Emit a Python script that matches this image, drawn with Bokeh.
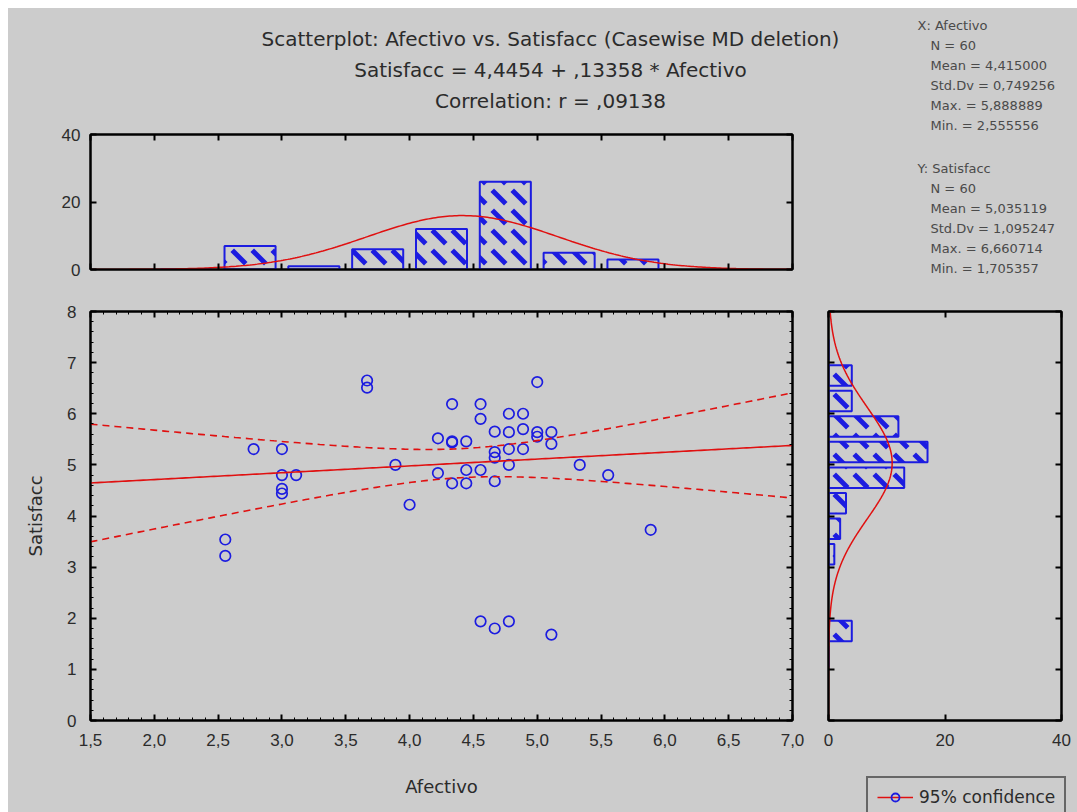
import numpy as np
from bokeh.plotting import figure
from bokeh.layouts import column, row
from bokeh.models import (Range1d, FixedTicker, LinearAxis, Legend,
                          LegendItem, ColumnDataSource)
from bokeh.core.properties import value
from bokeh.embed import file_html
from bokeh.resources import INLINE

# ---------------- data ----------------
afectivo = [3.667, 3.667, 4.333, 4.556, 4.556, 4.667, 4.222, 4.333, 4.333, 4.444,
            2.778, 3.000, 4.667, 4.667, 3.889, 4.222, 4.444, 4.556, 3.000, 3.111,
            4.333, 4.444, 4.667, 3.000, 3.000, 4.000, 2.556, 2.556, 5.000, 4.778,
            4.889, 4.778, 4.889, 5.000, 5.000, 5.111, 5.111, 4.778, 4.889, 4.778,
            5.333, 5.556, 5.889, 4.556, 4.667, 4.778, 5.111]
satisfacc = [6.65, 6.51, 6.19, 6.19, 5.90, 5.65, 5.52, 5.44, 5.46, 5.46,
             5.31, 5.31, 5.25, 5.14, 5.00, 4.84, 4.90, 4.90, 4.80, 4.80,
             4.64, 4.64, 4.68, 4.53, 4.44, 4.22, 3.54, 3.22, 6.62, 6.00,
             6.00, 5.64, 5.70, 5.64, 5.55, 5.64, 5.41, 5.31, 5.31, 5.00,
             5.00, 4.80, 3.73, 1.94, 1.80, 1.94, 1.68]

# histogram of Afectivo (top) and Satisfacc (right)
x_bin_centers = [2.25, 2.75, 3.25, 3.75, 4.25, 4.75, 5.25, 5.75]
x_bin_counts = [0, 7, 1, 6, 12, 26, 5, 3]
y_bin_centers = [7.25, 6.75, 6.25, 5.75, 5.25, 4.75, 4.25, 3.75, 3.25, 2.75, 1.75, 1.25]
y_bin_counts = [0, 4, 4, 12, 17, 13, 3, 2, 1, 0, 4, 0]
bin_width = 0.5

# printed statistics
n_cases = 60
intercept, slope, corr_r = 4.4454, 0.13358, 0.09138
x_name, y_name = "Afectivo", "Satisfacc"
x_mean, x_sd, x_max, x_min = 4.415000, 0.749256, 5.888889, 2.555556
y_mean, y_sd, y_max, y_min = 5.035119, 1.095247, 6.660714, 1.705357
t_crit = 2.0017  # t(0.975, df=58)
legend_label = "95% confidence"

x_ticks = [1.5, 2.0, 2.5, 3.0, 3.5, 4.0, 4.5, 5.0, 5.5, 6.0, 6.5, 7.0]
x_tick_labels = ["1,5", "2,0", "2,5", "3,0", "3,5", "4,0", "4,5", "5,0", "5,5", "6,0", "6,5", "7,0"]
y_ticks = [0, 1, 2, 3, 4, 5, 6, 7, 8]
count_ticks = [0, 20, 40]

# ---------------- style ----------------
BG = "#cccccc"
BLUE = "#1c1ce0"
RED = "#e01010"
FONT = "Liberation Sans"
TFONT = "DejaVu Sans"
TXT = "#2b2b2b"
STAT_TXT = "#4a4a4a"


def comma(v, fmt="{:.6f}"):
    return fmt.format(v).replace(".", ",")


def base_fig(**kw):
    kw.setdefault("outline_line_color", "black")
    p = figure(output_backend="svg", toolbar_location=None,
               background_fill_color=BG, border_fill_color=BG,
               outline_line_width=2, **kw)
    p.grid.grid_line_color = None
    return p


def text_fig(width, height):
    return base_fig(width=width, height=height, x_range=Range1d(0, width), y_range=Range1d(height, 0),
                    min_border=0, outline_line_color=None,
                    x_axis_location=None, y_axis_location=None)


def style_axis(ax, show_labels=True, minor=False):
    ax.axis_line_color = "black"
    ax.axis_line_width = 2
    ax.major_tick_in = 6
    ax.major_tick_out = 0
    ax.major_tick_line_width = 2
    ax.major_tick_line_color = "black"
    if minor:
        ax.minor_tick_in = 3
        ax.minor_tick_out = 0
        ax.minor_tick_line_color = "black"
        ax.minor_tick_line_width = 1
    else:
        ax.minor_tick_line_color = None
    ax.major_label_text_font = FONT
    ax.major_label_text_color = TXT
    if show_labels:
        ax.major_label_text_font_size = "17px"
    else:
        ax.major_label_text_font_size = "0px"
        ax.major_label_text_color = None
        ax.major_label_standoff = 0


def minor_list(ticks, k):
    out = []
    for a, b in zip(ticks[:-1], ticks[1:]):
        out += list(np.linspace(a, b, k + 1)[1:-1])
    return out


x_ticker = FixedTicker(ticks=x_ticks, minor_ticks=minor_list(x_ticks, 5))
y_ticker = FixedTicker(ticks=y_ticks, minor_ticks=minor_list(y_ticks, 5))
c_ticker = FixedTicker(ticks=count_ticks)

# ---------------- title block ----------------
p_title = text_fig(902, 118)
titles = [f"Scatterplot: {x_name} vs. {y_name} (Casewise MD deletion)",
          f"{y_name} = {comma(intercept, '{:.4f}')} + {comma(slope, '{:.5f}').lstrip('0')} * {x_name}",
          f"Correlation: r = {comma(corr_r, '{:.5f}').lstrip('0')}"]
p_title.text(x=[542] * len(titles), y=[30 + 31 * i for i in range(len(titles))], text=titles,
             text_align="center", text_baseline="middle", text_font=value(TFONT),
             text_font_size="20px", text_color=TXT)

# ---------------- stats block ----------------
p_stats = text_fig(167, 282)
stats = [(f"X:  {x_name}", x_mean, x_sd, x_max, x_min, 17),
         (f"Y:  {y_name}", y_mean, y_sd, y_max, y_min, 160)]
sx, sy, st = [], [], []
for head, m, s, mx, mn, y0 in stats:
    lines = [f"N = {n_cases}", f"Mean = {comma(m)}", f"Std.Dv  = {comma(s)}",
             f"Max. = {comma(mx)}", f"Min. = {comma(mn)}"]
    sx.append(7); sy.append(y0); st.append(head)
    for j, ln in enumerate(lines):
        sx.append(20); sy.append(y0 + 20 * (j + 1)); st.append(ln)
p_stats.text(x=sx, y=sy, text=st, text_align="left", text_baseline="middle",
             text_font=value(TFONT), text_font_size="13px", text_color=STAT_TXT)

# ---------------- top histogram (Afectivo) ----------------
p_top = base_fig(width=902, height=164, x_range=Range1d(1.5, 7.0), y_range=Range1d(0, 40),
                 min_border_left=82, min_border_right=118, min_border_top=8, min_border_bottom=21)
p_top.vbar(x=x_bin_centers, top=x_bin_counts, bottom=0, width=0.4,
           fill_color=None, line_color=BLUE, line_width=2,
           hatch_pattern="left_diagonal_dash", hatch_color=BLUE, hatch_weight=5, hatch_scale=20)
xs = np.linspace(1.5, 7.0, 300)
p_top.line(xs, n_cases * bin_width * np.exp(-0.5 * ((xs - x_mean) / x_sd) ** 2) / (x_sd * np.sqrt(2 * np.pi)),
           line_color=RED, line_width=1.5)
p_top.xaxis.ticker = x_ticker
style_axis(p_top.xaxis[0], show_labels=False)
p_top.yaxis.ticker = c_ticker
style_axis(p_top.yaxis[0])
p_top.yaxis.major_label_standoff = 10
ax = LinearAxis(ticker=x_ticker); style_axis(ax, show_labels=False); p_top.add_layout(ax, "above")
ax = LinearAxis(ticker=c_ticker); style_axis(ax, show_labels=False); p_top.add_layout(ax, "right")

# ---------------- main scatter ----------------
p_main = base_fig(width=802, height=522, x_range=Range1d(1.5, 7.0), y_range=Range1d(0, 8),
                  min_border_left=82, min_border_right=18, min_border_top=21, min_border_bottom=92)
p_main.scatter(afectivo, satisfacc, marker="circle", size=10.5, fill_color=None,
               line_color=BLUE, line_width=1.7)
xl = np.linspace(1.5, 7.0, 200)
fit = intercept + slope * xl
s_res = y_sd * np.sqrt((1 - corr_r ** 2) * (n_cases - 1) / (n_cases - 2))
sxx = (n_cases - 1) * x_sd ** 2
half = t_crit * s_res * np.sqrt(1.0 / n_cases + (xl - x_mean) ** 2 / sxx)
p_main.line(xl, fit, line_color=RED, line_width=1.6)
p_main.line(xl, fit + half, line_color=RED, line_width=1.6, line_dash="7 5")
p_main.line(xl, fit - half, line_color=RED, line_width=1.6, line_dash="7 5")

p_main.xaxis.ticker = x_ticker
p_main.xaxis.major_label_overrides = {t: l for t, l in zip(x_ticks, x_tick_labels)}
style_axis(p_main.xaxis[0], minor=True)
p_main.xaxis.major_label_standoff = 13
p_main.xaxis.axis_label = x_name
p_main.xaxis.axis_label_standoff = 27
p_main.yaxis.ticker = y_ticker
style_axis(p_main.yaxis[0], minor=True)
p_main.yaxis.major_label_standoff = 14
p_main.yaxis.axis_label = y_name
p_main.yaxis.axis_label_standoff = 18
for a in (p_main.xaxis[0], p_main.yaxis[0]):
    a.axis_label_text_font = TFONT
    a.axis_label_text_font_size = "18px"
    a.axis_label_text_font_style = "normal"
    a.axis_label_text_color = TXT
ax = LinearAxis(ticker=x_ticker); style_axis(ax, show_labels=False, minor=True); p_main.add_layout(ax, "above")
ax = LinearAxis(ticker=y_ticker); style_axis(ax, show_labels=False, minor=True); p_main.add_layout(ax, "right")

# ---------------- right histogram (Satisfacc) ----------------
p_right = base_fig(width=267, height=480, x_range=Range1d(0, 40), y_range=Range1d(0, 8),
                   min_border_left=18, min_border_right=16, min_border_top=21, min_border_bottom=50)
p_right.hbar(y=y_bin_centers, right=y_bin_counts, left=0, height=0.4,
             fill_color=None, line_color=BLUE, line_width=2,
             hatch_pattern="left_diagonal_dash", hatch_color=BLUE, hatch_weight=5, hatch_scale=20)
ys = np.linspace(0, 8, 300)
p_right.line(n_cases * bin_width * np.exp(-0.5 * ((ys - y_mean) / y_sd) ** 2) / (y_sd * np.sqrt(2 * np.pi)), ys,
             line_color=RED, line_width=1.5)
p_right.xaxis.ticker = c_ticker
style_axis(p_right.xaxis[0])
p_right.xaxis.major_label_standoff = 13
p_right.yaxis.ticker = FixedTicker(ticks=y_ticks)
style_axis(p_right.yaxis[0], show_labels=False)
ax = LinearAxis(ticker=c_ticker); style_axis(ax, show_labels=False); p_right.add_layout(ax, "above")
ax = LinearAxis(ticker=FixedTicker(ticks=y_ticks)); style_axis(ax, show_labels=False); p_right.add_layout(ax, "right")

# ---------------- legend block ----------------
p_leg = text_fig(267, 42)
blank = ColumnDataSource(dict(x=[np.nan], y=[np.nan]))
lg_line = p_leg.line("x", "y", source=blank, line_color=RED, line_width=1.6)
lg_pt = p_leg.scatter("x", "y", source=blank, marker="circle", size=10, fill_color=None,
                      line_color=BLUE, line_width=1.8)
legend = Legend(items=[LegendItem(label=legend_label, renderers=[lg_line, lg_pt])],
                location=(56, -6), border_line_color="black", border_line_width=2,
                background_fill_alpha=0, label_text_font=TFONT, label_text_font_size="17px",
                label_text_color=TXT, padding=9, margin=0, glyph_width=36, glyph_height=20,
                label_standoff=6)
p_leg.add_layout(legend)

# text panels are wrapped in their own rows so that they are not frame-aligned
layout = column(row(column(row(p_title), p_top), p_stats),
                row(p_main, column(p_right, row(p_leg))))

template = """{% block postamble %}
<style>
html { background: #ffffff; padding: 8px 0 0 8px; }
body { background: #cccccc; overflow: hidden; }
</style>
{% endblock %}"""
open("out.html", "w").write(file_html(layout, INLINE, template=template))
